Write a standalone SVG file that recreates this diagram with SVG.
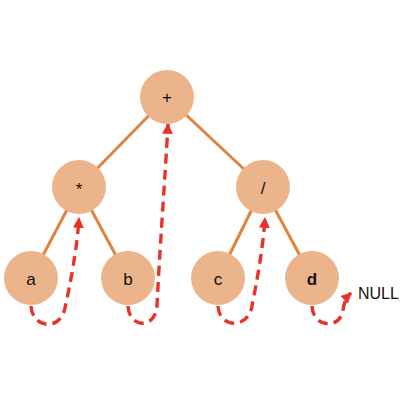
<svg xmlns="http://www.w3.org/2000/svg" width="400" height="400" viewBox="0 0 400 400">
<defs>
<style>
.edge{stroke:#E0833F;stroke-width:3;fill:none}
.node{fill:#EBB48A}
.lbl{font-family:"Liberation Sans",Arial,sans-serif;font-size:17px;fill:#111;text-anchor:middle;dominant-baseline:central}
.thread{stroke:#E83329;stroke-width:3.4;fill:none;stroke-dasharray:10 6;marker-end:url(#ah)}
</style>
<marker id="ah" viewBox="0 0 10 10" refX="9" refY="5" markerWidth="3.2" markerHeight="3.2" orient="auto" markerUnits="strokeWidth">
<path d="M0,0 L10,5 L0,10 z" fill="#E83329"/>
</marker>
</defs>
<rect width="400" height="400" fill="#fff"/>
<g id="edges">
<line class="edge" x1="167" y1="97" x2="79" y2="187"/>
<line class="edge" x1="167" y1="97" x2="263" y2="187"/>
<line class="edge" x1="79" y1="187" x2="31" y2="278"/>
<line class="edge" x1="79" y1="187" x2="128" y2="278"/>
<line class="edge" x1="263" y1="187" x2="218" y2="278"/>
<line class="edge" x1="263" y1="187" x2="312" y2="278"/>
</g>
<g id="threads">
<path class="thread" d="M31 306 C32 328 60 332 65 308 C70 285 77 250 79 218"/>
<path class="thread" d="M128 306 C129 328 155 330 157 306 C159 260 165 180 168 124"/>
<path class="thread" d="M218 306 C219 328 248 330 252 306 C256 285 263 250 265 218"/>
<path class="thread" d="M312 306 C313 328 340 330 343 310 C344 303 346 298 351 293"/>
</g>
<g id="n-plus"><circle class="node" cx="167" cy="97" r="27"/><text class="lbl" x="167" y="97" font-size="19">+</text></g>
<g id="n-mul"><circle class="node" cx="79" cy="187" r="27"/><text class="lbl" x="79" y="189" font-size="20">*</text></g>
<g id="n-div"><circle class="node" cx="263" cy="187" r="27"/><text class="lbl" x="263" y="188">/</text></g>
<g id="n-a"><circle class="node" cx="31" cy="278" r="27"/><text class="lbl" x="31" y="279">a</text></g>
<g id="n-b"><circle class="node" cx="128" cy="278" r="27"/><text class="lbl" x="128" y="279">b</text></g>
<g id="n-c"><circle class="node" cx="218" cy="278" r="27"/><text class="lbl" x="218" y="279">c</text></g>
<g id="n-d"><circle class="node" cx="312" cy="278" r="27"/><text class="lbl" x="312" y="279" font-weight="bold">d</text></g>
<text x="358" y="299" style="font-family:'Liberation Sans',Arial,sans-serif;font-size:16px;fill:#111">NULL</text>
</svg>
